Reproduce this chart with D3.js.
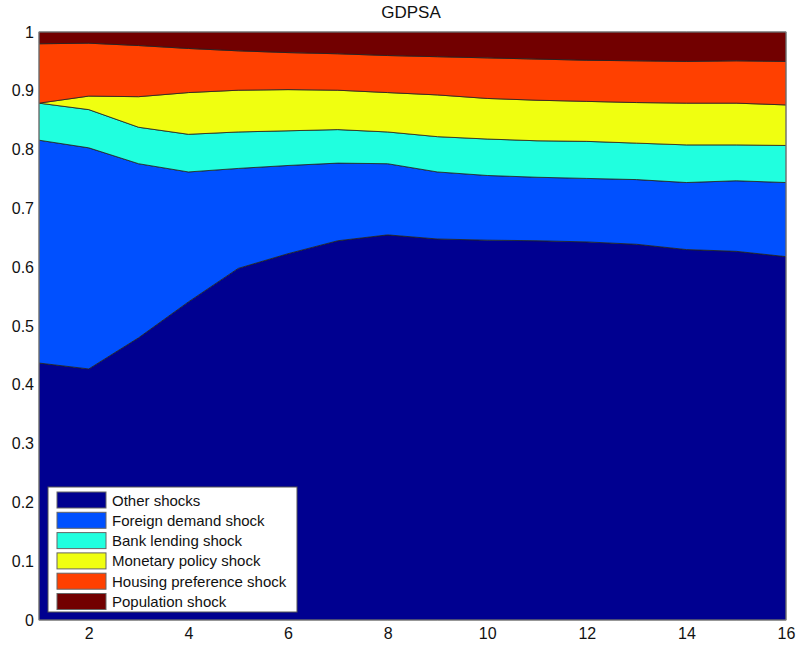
<!DOCTYPE html>
<html><head><meta charset="utf-8">
<script src="https://cdn.jsdelivr.net/npm/d3@7"></script>
<style>body{margin:0;background:#fff;} svg{display:block;} text{font-family:"Liberation Sans",Arial,sans-serif;}</style>
</head><body><svg id="c" width="796" height="647"></svg>
<script>
const horizons = [1,2,3,4,5,6,7,8,9,10,11,12,13,14,15,16];
const seriesNames = ["Other shocks","Foreign demand shock","Bank lending shock","Monetary policy shock","Housing preference shock","Population shock"];
const otherShocks     = [0.437,0.427,0.480,0.541,0.598,0.623,0.645,0.655,0.648,0.646,0.645,0.643,0.639,0.630,0.627,0.618];
const foreignDemand   = [0.379,0.376,0.296,0.221,0.170,0.150,0.132,0.121,0.114,0.110,0.108,0.108,0.110,0.114,0.120,0.126];
const bankLending     = [0.063,0.065,0.062,0.064,0.062,0.059,0.057,0.054,0.060,0.062,0.062,0.063,0.062,0.064,0.061,0.063];
const monetaryPolicy  = [0.000,0.023,0.052,0.071,0.071,0.070,0.067,0.067,0.071,0.069,0.069,0.068,0.069,0.071,0.071,0.069];
const housingPref     = [0.101,0.090,0.087,0.075,0.067,0.063,0.062,0.063,0.065,0.069,0.070,0.070,0.071,0.071,0.072,0.074];
const population      = [0.020,0.019,0.023,0.028,0.032,0.035,0.037,0.040,0.042,0.044,0.046,0.048,0.049,0.050,0.049,0.050];
const colors = ["#000090","#0050ff","#20ffdf","#f0ff10","#ff4000","#720000"];
const xTicks = [2,4,6,8,10,12,14,16];
const yTicks = [0,0.1,0.2,0.3,0.4,0.5,0.6,0.7,0.8,0.9,1];

const allSeries = [otherShocks,foreignDemand,bankLending,monetaryPolicy,housingPref,population];
const rows = horizons.map((h,i)=>{const r={h}; seriesNames.forEach((n,j)=>r[n]=allSeries[j][i]); return r;});
const stacked = d3.stack().keys(seriesNames)(rows);

const svg = d3.select("#c");
const L=39,R=786,T=32,B=620;
const x = d3.scaleLinear().domain([1,16]).range([L,R]);
const y = d3.scaleLinear().domain([0,1]).range([B,T]);

const g = svg.append("g");
const area = d3.area().x(d=>x(d.data.h)).y0(d=>y(d[0])).y1(d=>y(Math.min(1,d[1])));
g.selectAll("path.a").data(stacked).join("path").attr("class","a")
  .attr("d",area).attr("fill",(d,i)=>colors[i]).attr("stroke","#222").attr("stroke-width",0.8).attr("stroke-linejoin","round");

// frame
svg.append("rect").attr("x",L).attr("y",T).attr("width",R-L).attr("height",B-T).attr("fill","none").attr("stroke","#888").attr("stroke-width",1);

// axes
const xAxis = d3.axisBottom(x).tickValues(xTicks).tickSize(0).tickPadding(8).tickFormat(d3.format("d"));
const xa = svg.append("g").attr("transform",`translate(0,${B})`).call(xAxis);
xa.select(".domain").remove();
xa.selectAll("text").attr("font-size",16).attr("fill","#111").style("font-family","Liberation Sans, Arial, sans-serif");
const yAxis = d3.axisLeft(y).tickValues(yTicks).tickSize(0).tickPadding(5).tickFormat(d=>d===0?"0":d===1?"1":d3.format(".1f")(d));
const ya = svg.append("g").attr("transform",`translate(${L},0)`).call(yAxis);
ya.select(".domain").remove();
ya.selectAll("text").attr("font-size",16).attr("fill","#111").style("font-family","Liberation Sans, Arial, sans-serif");

// title
svg.append("text").attr("x",411).attr("y",18).attr("text-anchor","middle").attr("font-size",17).attr("fill","#111").text("GDPSA");

// legend
const lg = svg.append("g").attr("transform","translate(48,487)");
lg.append("rect").attr("width",249).attr("height",125).attr("fill","#fff").attr("stroke","#555").attr("stroke-width",1);
seriesNames.forEach((n,i)=>{
  const yy = 5 + i*20.3;
  lg.append("rect").attr("x",9).attr("y",yy).attr("width",49).attr("height",16).attr("fill",colors[i]).attr("stroke","#666").attr("stroke-width",1);
  lg.append("text").attr("x",64).attr("y",yy+13.5).attr("font-size",15).attr("fill","#111").text(n);
});
</script></body></html>
